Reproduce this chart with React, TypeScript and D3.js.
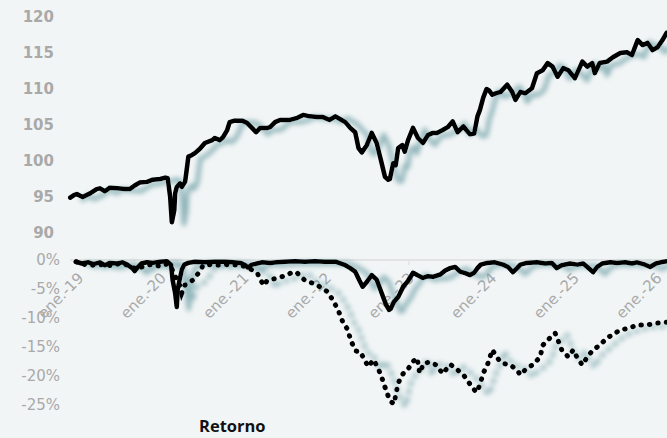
import React from "react";
import * as d3 from "d3";

// Index series (top panel): time in decimal years, values
const idxT = [2018.90,2018.95,2018.98,2019.05,2019.14,2019.22,2019.26,2019.32,2019.38,2019.47,2019.56,2019.62,2019.68,2019.74,2019.83,2019.90,2019.99,2020.05,2020.08,2020.11,2020.13,2020.16,2020.17,2020.19,2020.23,2020.25,2020.29,2020.31,2020.33,2020.37,2020.41,2020.47,2020.53,2020.62,2020.65,2020.71,2020.75,2020.80,2020.83,2020.89,2020.98,2021.04,2021.10,2021.15,2021.20,2021.29,2021.32,2021.38,2021.44,2021.56,2021.65,2021.72,2021.80,2021.89,2021.96,2022.04,2022.11,2022.17,2022.23,2022.29,2022.35,2022.39,2022.43,2022.49,2022.55,2022.61,2022.67,2022.71,2022.75,2022.77,2022.81,2022.84,2022.87,2022.92,2022.95,2022.99,2023.05,2023.11,2023.17,2023.23,2023.29,2023.34,2023.41,2023.47,2023.53,2023.59,2023.66,2023.74,2023.79,2023.83,2023.86,2023.90,2023.94,2023.97,2024.01,2024.05,2024.11,2024.19,2024.25,2024.29,2024.35,2024.41,2024.49,2024.55,2024.62,2024.68,2024.74,2024.80,2024.87,2024.93,2025.01,2025.10,2025.16,2025.22,2025.25,2025.31,2025.40,2025.47,2025.56,2025.64,2025.70,2025.77,2025.83,2025.89,2025.95,2026.01,2026.07,2026.12];
const idxV = [94.9,95.3,95.4,95.0,95.5,96.1,96.2,95.8,96.3,96.2,96.1,96.1,96.6,97.0,97.1,97.4,97.5,97.7,97.6,95.0,91.5,93.2,95.5,96.4,96.9,96.4,97.1,98.8,100.6,100.8,101.1,101.7,102.5,102.9,103.2,102.9,103.3,104.3,105.4,105.6,105.6,105.3,104.6,104.0,104.6,104.6,104.7,105.4,105.7,105.7,106.0,106.4,106.2,106.1,106.1,105.7,106.2,105.8,105.4,104.6,104.0,101.8,101.2,102.2,103.9,102.5,99.7,97.8,97.4,97.5,99.7,99.4,101.8,102.2,101.3,102.9,104.6,103.2,102.5,103.6,103.9,103.9,104.3,104.7,105.5,104.0,104.8,103.7,103.8,106.2,107.1,108.8,110.0,109.8,109.2,109.4,109.6,110.6,109.6,108.5,109.6,109.4,110.1,112.2,112.6,113.6,113.1,111.7,112.9,112.6,111.5,113.8,113.1,113.6,112.2,113.6,113.8,114.4,115.0,115.1,114.7,116.8,116.1,116.4,115.4,115.8,116.8,117.8];

// Drawdown of the fund (solid) in %
const ddT = [2018.97,2019.04,2019.12,2019.18,2019.26,2019.32,2019.38,2019.47,2019.53,2019.59,2019.65,2019.68,2019.72,2019.76,2019.83,2019.90,2019.99,2020.07,2020.12,2020.14,2020.17,2020.19,2020.20,2020.23,2020.25,2020.28,2020.33,2020.41,2020.53,2020.65,2020.77,2020.87,2020.96,2021.02,2021.05,2021.10,2021.16,2021.22,2021.32,2021.40,2021.50,2021.62,2021.74,2021.86,2021.98,2022.11,2022.17,2022.23,2022.29,2022.35,2022.40,2022.44,2022.49,2022.55,2022.61,2022.67,2022.72,2022.76,2022.78,2022.82,2022.87,2022.93,2022.99,2023.05,2023.10,2023.17,2023.23,2023.29,2023.38,2023.44,2023.50,2023.56,2023.62,2023.69,2023.74,2023.79,2023.83,2023.87,2023.95,2024.04,2024.14,2024.20,2024.26,2024.31,2024.35,2024.43,2024.55,2024.65,2024.73,2024.79,2024.85,2024.95,2025.04,2025.11,2025.16,2025.23,2025.28,2025.34,2025.44,2025.52,2025.62,2025.70,2025.76,2025.84,2025.92,2025.99,2026.05,2026.13];
const ddV = [-0.3,-0.6,-0.4,-0.7,-0.4,-0.9,-0.5,-0.6,-0.4,-0.8,-1.4,-1.9,-1.2,-0.6,-0.4,-0.5,-0.3,-0.2,-0.8,-3.5,-5.7,-8.1,-5.2,-3.0,-1.7,-0.8,-0.5,-0.3,-0.4,-0.3,-0.3,-0.4,-0.5,-0.9,-1.3,-0.8,-0.6,-0.4,-0.5,-0.4,-0.3,-0.2,-0.3,-0.2,-0.3,-0.3,-0.6,-0.9,-1.4,-2.0,-3.5,-4.6,-3.8,-2.6,-3.4,-5.7,-7.6,-8.6,-8.4,-7.2,-6.4,-4.6,-3.6,-2.2,-2.6,-3.1,-2.8,-2.9,-2.5,-1.8,-1.4,-1.2,-2.0,-2.3,-2.6,-2.2,-1.4,-0.8,-0.5,-0.4,-0.8,-1.2,-2.1,-1.4,-0.8,-0.5,-0.4,-0.6,-0.5,-1.4,-0.9,-0.6,-0.8,-0.6,-1.2,-2.1,-1.2,-0.6,-0.4,-0.5,-0.4,-0.6,-0.4,-0.7,-1.2,-0.6,-0.4,-0.2];

// Drawdown of the comparison (dotted) in %
const dd2T = [2018.97,2019.08,2019.18,2019.30,2019.41,2019.50,2019.60,2019.71,2019.81,2019.90,2019.99,2020.07,2020.13,2020.19,2020.23,2020.25,2020.29,2020.33,2020.39,2020.45,2020.51,2020.59,2020.68,2020.80,2020.96,2021.05,2021.11,2021.17,2021.21,2021.25,2021.28,2021.35,2021.44,2021.52,2021.58,2021.64,2021.69,2021.76,2021.84,2021.92,2022.01,2022.07,2022.14,2022.20,2022.25,2022.31,2022.36,2022.41,2022.47,2022.51,2022.57,2022.62,2022.67,2022.71,2022.75,2022.78,2022.82,2022.87,2022.93,2022.99,2023.05,2023.10,2023.13,2023.18,2023.26,2023.33,2023.41,2023.50,2023.56,2023.66,2023.72,2023.78,2023.82,2023.86,2023.90,2023.95,2024.01,2024.07,2024.13,2024.23,2024.31,2024.35,2024.43,2024.50,2024.59,2024.62,2024.71,2024.77,2024.81,2024.85,2024.93,2024.99,2025.04,2025.10,2025.16,2025.23,2025.31,2025.40,2025.47,2025.55,2025.68,2025.76,2025.88,2026.00,2026.13];
const dd2V = [-0.3,-0.8,-0.9,-0.8,-1.0,-0.6,-0.9,-1.6,-0.9,-0.8,-1.1,-0.7,-1.5,-3.4,-4.5,-5.7,-4.3,-4.0,-3.4,-2.3,-0.9,-0.8,-0.9,-0.8,-0.9,-1.3,-1.8,-2.4,-3.6,-4.4,-3.6,-3.3,-3.0,-2.6,-2.2,-2.1,-2.9,-3.7,-4.0,-4.6,-5.4,-6.7,-8.5,-10.7,-11.8,-14.3,-15.7,-15.8,-17.4,-18.4,-17.2,-18.4,-20.2,-21.9,-23.5,-24.4,-24.8,-21.2,-19.6,-18.8,-17.5,-16.9,-19.5,-17.8,-17.6,-18.1,-19.6,-18.0,-18.6,-19.8,-21.0,-22.2,-22.8,-21.5,-19.5,-18.1,-15.5,-16.9,-17.8,-18.1,-19.0,-19.8,-18.6,-18.1,-16.7,-14.7,-13.4,-12.6,-14.0,-15.5,-16.7,-15.5,-16.9,-18.1,-16.7,-15.5,-14.7,-13.4,-12.9,-12.1,-11.7,-11.2,-11.2,-10.9,-10.7];

const topTicks = [90, 95, 100, 105, 110, 115, 120];
const botTicks = [0, -5, -10, -15, -20, -25];
const yearTicks = [2019, 2020, 2021, 2022, 2023, 2024, 2025, 2026];
const yearLabels = ["ene.-19", "ene.-20", "ene.-21", "ene.-22", "ene.-23", "ene.-24", "ene.-25", "ene.-26"];
const legendLabel = "Retorno";

export default function App() {
  const W = 667, H = 438;
  const x = d3.scaleLinear().domain([2019, 2026]).range([78.5, 78.5 + 7 * 82.6]);
  const yTop = d3.scaleLinear().domain([90, 120]).range([233, 17]);
  const yBot = d3.scaleLinear().domain([-25, 0]).range([405, 260]);

  const lineTop = d3.line<number>().x((_, i) => x(idxT[i])).y((d) => yTop(d));
  const lineDD = d3.line<number>().x((_, i) => x(ddT[i])).y((d) => yBot(d));
  const lineDD2 = d3.line<number>().x((_, i) => x(dd2T[i])).y((d) => yBot(d));

  const grey = "#a9a9a9";
  return (
    <svg width={W} height={H} style={{ position: "absolute", left: 0, top: 0, background: "#f2f5f6" }}>
      <defs>
        <filter id="sh" filterUnits="userSpaceOnUse" x={0} y={0} width={W + 40} height={H}>
          <feGaussianBlur in="SourceAlpha" stdDeviation={2.5} result="b" />
          <feOffset in="b" dx={12} dy={2} result="o" />
          <feFlood floodColor="#6e9fa5" floodOpacity={0.75} />
          <feComposite in2="o" operator="in" result="s" />
          <feMerge>
            <feMergeNode in="s" />
            <feMergeNode in="SourceGraphic" />
          </feMerge>
        </filter>
      </defs>
      <rect x={0} y={0} width={W} height={H} fill="#f2f5f6" />

      {topTicks.map((t) => (
        <text key={t} x={54} y={yTop(t)} dy="0.36em" textAnchor="end"
          fontFamily="DejaVu Sans" fontWeight="bold" fontSize={15} fill={grey}>{t}</text>
      ))}
      {botTicks.map((t) => (
        <text key={t} x={60} y={yBot(t)} dy="0.36em" textAnchor="end"
          fontFamily="DejaVu Sans" fontSize={15} fill={grey}>{t + "%"}</text>
      ))}

      <line x1={70} x2={W} y1={yBot(0)} y2={yBot(0)} stroke="#dcdcdc" strokeWidth={1.5} />
      {yearTicks.map((t) => (
        <line key={t} x1={x(t)} x2={x(t)} y1={yBot(0)} y2={yBot(0) + 5} stroke="#dcdcdc" strokeWidth={1} />
      ))}

      {yearTicks.map((t, i) => (
        <text key={t} transform={`translate(${x(t) + 6},${yBot(0) + 19}) rotate(-45)`} textAnchor="end"
          fontFamily="DejaVu Sans" fontSize={15} fill={grey}>{yearLabels[i]}</text>
      ))}

      <g filter="url(#sh)">
        <path d={lineTop(idxV) || ""} fill="none" stroke="#000" strokeWidth={4.5} strokeLinejoin="round" strokeLinecap="round" />
      </g>
      <g filter="url(#sh)">
        <path d={lineDD2(dd2V) || ""} fill="none" stroke="#000" strokeWidth={5} strokeLinecap="round" strokeDasharray="0.5 8" />
        <path d={lineDD(ddV) || ""} fill="none" stroke="#000" strokeWidth={4.5} strokeLinejoin="round" strokeLinecap="round" />
      </g>

      <text x={199} y={432} fontFamily="Open Sans" fontWeight="bold" fontSize={16.5} fill="#111">{legendLabel}</text>
    </svg>
  );
}
